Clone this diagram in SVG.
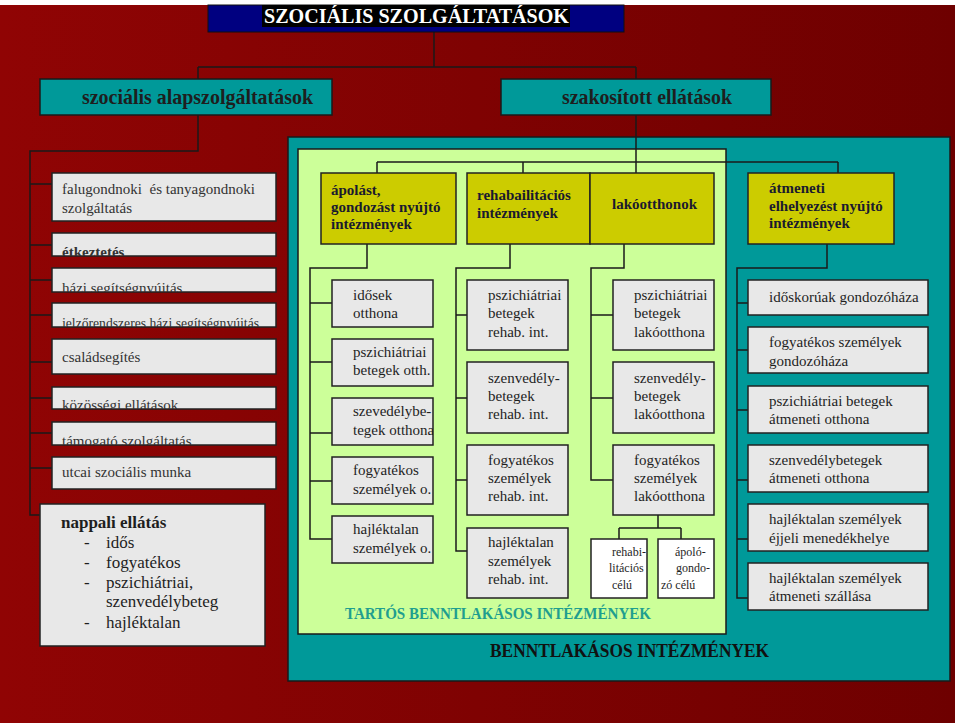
<svg xmlns="http://www.w3.org/2000/svg" width="960" height="723" viewBox="0 0 960 723">
<defs>
<linearGradient id="bg" x1="0" y1="0" x2="1" y2="0">
<stop offset="0" stop-color="#900404"/>
<stop offset="1" stop-color="#6e0000"/>
</linearGradient>
<clipPath id="c-etk"><rect x="52" y="233" width="224" height="23"/></clipPath>
<clipPath id="c-hazi"><rect x="52" y="268" width="224" height="24"/></clipPath>
<clipPath id="c-jelzo"><rect x="52" y="303" width="224" height="24"/></clipPath>
<clipPath id="c-kozos"><rect x="52" y="387" width="224" height="22"/></clipPath>
<clipPath id="c-tamog"><rect x="52" y="422" width="224" height="23"/></clipPath>
<clipPath id="c-szev"><rect x="332" y="398" width="101" height="47"/></clipPath>
<clipPath id="c-rehabi"><rect x="591" y="539" width="56" height="59"/></clipPath>
<clipPath id="c-apolo"><rect x="658" y="539" width="56" height="59"/></clipPath>
</defs>
<style>
text{font-family:"Liberation Serif","DejaVu Serif","Noto Serif",serif}
.gray{fill:#e8e8e8;stroke:#222;stroke-width:1.5}
.white{fill:#ffffff;stroke:#222;stroke-width:1.5}
.yel{fill:#cccc00;stroke:#222;stroke-width:1.5}
.teal{fill:#009999;stroke:#1a1a1a;stroke-width:1.5}
.t{fill:#1e1e1e}
.tl{fill:#333;font-size:15px}
.tb{fill:#1a1a2e;font-weight:bold;font-size:15px}
.tg{fill:#1e1e1e;font-size:15px}
.tw{fill:#1e1e1e;font-size:15px}
.ts{fill:#1e1e1e;font-size:12px}
.ln{fill:none;stroke:#1a1a1a;stroke-width:1.5}
</style>
<rect x="0" y="5" width="955" height="718" fill="url(#bg)"/>
<rect x="288" y="137" width="662" height="544" fill="#009999" stroke="#1a1a1a" stroke-width="1.5"/>
<rect x="298" y="149" width="428" height="485" fill="#ccff99" stroke="#1a1a1a" stroke-width="1.5"/>

<g id="connectors">
<path class="ln" d="M434 32V67M198 67H636M198 67V79M636 67V173"/>
<path class="ln" d="M198 115V151H30V515H52"/>
<path class="ln" d="M30 184H52M30 245H52M30 280H52M30 315H52M30 362H52M30 398H52M30 433H52M30 468H52"/>
<path class="ln" d="M377 162H838M377 162V173M523 162V173M838 162V173"/>
<path class="ln" d="M367 244V268H310V539H332M310 303H332M310 362H332M310 433H332M310 481H332"/>
<path class="ln" d="M510 244V268H456V551H467M456 315H467M456 398H467M456 480H467"/>
<path class="ln" d="M624 244V268H591V480H613M591 315H613M591 398H613"/>
<path class="ln" d="M658 515V528M619 528H681M619 528V539M681 528V539"/>
<path class="ln" d="M827 244V268H737V598H748M737 303H748M737 350H748M737 410H748M737 480H748M737 539H748"/>
</g>

<g id="title">
<rect x="208" y="5" width="416" height="27" fill="#000080" stroke="#111" stroke-width="1"/>
<rect x="262" y="5" width="308" height="22" fill="#000"/>
<text x="264" y="23" font-weight="bold" font-size="20" fill="#fff" textLength="305" lengthAdjust="spacingAndGlyphs">SZOCIÁLIS SZOLGÁLTATÁSOK</text>
</g>

<g id="alapszolg">
<rect class="teal" x="40" y="79" width="292" height="36"/>
<text class="t" x="82" y="104" font-weight="bold" font-size="21" textLength="231" lengthAdjust="spacingAndGlyphs">szociális alapszolgáltatások</text>
</g>
<g id="szakositott">
<rect class="teal" x="501" y="79" width="270" height="36"/>
<text class="t" x="562" y="104" font-weight="bold" font-size="21" textLength="170" lengthAdjust="spacingAndGlyphs">szakosított ellátások</text>
</g>

<g id="falugondnoki"><rect class="gray" x="52" y="173" width="224" height="48"/>
<text class="tl" x="62" y="194">falugondnoki&#160; és tanyagondnoki</text><text class="tl" x="62" y="213">szolgáltatás</text></g>
<g id="etkeztetes"><rect class="gray" x="52" y="233" width="224" height="23"/>
<text class="tl" x="62" y="257" font-weight="bold" clip-path="url(#c-etk)">étkeztetés</text></g>
<g id="hazi"><rect class="gray" x="52" y="268" width="224" height="24"/>
<text class="tl" x="62" y="293" clip-path="url(#c-hazi)">házi segítségnyújtás</text></g>
<g id="jelzo"><rect class="gray" x="52" y="303" width="224" height="24"/>
<text class="tl" x="62" y="328" font-size="14" textLength="197" lengthAdjust="spacingAndGlyphs" clip-path="url(#c-jelzo)">jelzőrendszeres házi segítségnyújtás</text></g>
<g id="csaladsegites"><rect class="gray" x="52" y="339" width="224" height="35"/>
<text class="tl" x="62" y="362" font-size="17">családsegítés</text></g>
<g id="kozossegi"><rect class="gray" x="52" y="387" width="224" height="22"/>
<text class="tl" x="62" y="410" clip-path="url(#c-kozos)">közösségi ellátások</text></g>
<g id="tamogato"><rect class="gray" x="52" y="422" width="224" height="23"/>
<text class="tl" x="62" y="446" clip-path="url(#c-tamog)">támogató szolgáltatás</text></g>
<g id="utcai"><rect class="gray" x="52" y="457" width="224" height="32"/>
<text class="tl" x="62" y="477">utcai szociális munka</text></g>
<g id="nappali"><rect class="gray" x="40" y="504" width="225" height="142"/>
<text class="t" x="61" y="528" font-size="17" font-weight="bold">nappali ellátás</text>
<text class="t" font-size="17"><tspan x="84" y="548">-</tspan><tspan x="106" y="548">idős</tspan><tspan x="84" y="568">-</tspan><tspan x="106" y="568">fogyatékos</tspan><tspan x="84" y="588">-</tspan><tspan x="106" y="588">pszichiátriai,</tspan><tspan x="106" y="607">szenvedélybeteg</tspan><tspan x="84" y="628">-</tspan><tspan x="106" y="628">hajléktalan</tspan></text>
</g>

<g id="apolast"><rect class="yel" x="321" y="173" width="135" height="71"/>
<text class="tb" x="331" y="195">ápolást,</text><text class="tb" x="331" y="212">gondozást nyújtó</text><text class="tb" x="331" y="229">intézmények</text></g>
<g id="rehab"><rect class="yel" x="467" y="173" width="123" height="71"/>
<text class="tb" x="477" y="200">rehabailitációs</text><text class="tb" x="477" y="218">intézmények</text></g>
<g id="lakootthonok"><rect class="yel" x="590" y="173" width="124" height="71"/>
<text class="tb" x="612" y="209">lakóotthonok</text></g>
<g id="atmeneti"><rect class="yel" x="748" y="173" width="146" height="71"/>
<text class="tb" x="769" y="193">átmeneti</text><text class="tb" x="769" y="211">elhelyezést nyújtó</text><text class="tb" x="769" y="228">intézmények</text></g>

<g id="idosek-otthona"><rect class="gray" x="332" y="280" width="101" height="47"/>
<text class="tg" x="353" y="300">idősek</text><text class="tg" x="353" y="318">otthona</text></g>
<g id="psz-otth"><rect class="gray" x="332" y="339" width="101" height="47"/>
<text class="tg" x="353" y="357">pszichiátriai</text><text class="tg" x="353" y="375">betegek otth.</text></g>
<g id="szev-otth"><rect class="gray" x="332" y="398" width="101" height="47"/>
<g clip-path="url(#c-szev)"><text class="tg" x="353" y="416">szevedélybe-</text><text class="tg" x="353" y="435">tegek otthona</text></g></g>
<g id="fogy-o"><rect class="gray" x="332" y="457" width="101" height="47"/>
<text class="tg" x="353" y="475">fogyatékos</text><text class="tg" x="353" y="494">személyek o.</text></g>
<g id="hajl-o"><rect class="gray" x="332" y="516" width="101" height="47"/>
<text class="tg" x="353" y="534">hajléktalan</text><text class="tg" x="353" y="553">személyek o.</text></g>

<g id="psz-rehab"><rect class="gray" x="467" y="280" width="101" height="70"/>
<text class="tg" x="488" y="300">pszichiátriai</text><text class="tg" x="488" y="318">betegek</text><text class="tg" x="488" y="337">rehab. int.</text></g>
<g id="szenv-rehab"><rect class="gray" x="467" y="362" width="101" height="71"/>
<text class="tg" x="488" y="383">szenvedély-</text><text class="tg" x="488" y="401">betegek</text><text class="tg" x="488" y="419">rehab. int.</text></g>
<g id="fogy-rehab"><rect class="gray" x="467" y="445" width="101" height="70"/>
<text class="tg" x="488" y="465">fogyatékos</text><text class="tg" x="488" y="483">személyek</text><text class="tg" x="488" y="501">rehab. int.</text></g>
<g id="hajl-rehab"><rect class="gray" x="467" y="528" width="101" height="70"/>
<text class="tg" x="488" y="547">hajléktalan</text><text class="tg" x="488" y="566">személyek</text><text class="tg" x="488" y="584">rehab. int.</text></g>

<g id="psz-lako"><rect class="gray" x="613" y="280" width="101" height="70"/>
<text class="tg" x="634" y="300">pszichiátriai</text><text class="tg" x="634" y="318">betegek</text><text class="tg" x="634" y="337">lakóotthona</text></g>
<g id="szenv-lako"><rect class="gray" x="613" y="362" width="101" height="71"/>
<text class="tg" x="634" y="383">szenvedély-</text><text class="tg" x="634" y="401">betegek</text><text class="tg" x="634" y="419">lakóotthona</text></g>
<g id="fogy-lako"><rect class="gray" x="613" y="445" width="101" height="70"/>
<text class="tg" x="634" y="465">fogyatékos</text><text class="tg" x="634" y="483">személyek</text><text class="tg" x="634" y="501">lakóotthona</text></g>
<g id="rehabi-celu"><rect class="white" x="591" y="539" width="56" height="59"/>
<g clip-path="url(#c-rehabi)"><text class="ts" x="612" y="556">rehabi-</text><text class="ts" x="609" y="572">litációs</text><text class="ts" x="612" y="589">célú</text></g></g>
<g id="apolo-celu"><rect class="white" x="658" y="539" width="56" height="59"/>
<g clip-path="url(#c-apolo)"><text class="ts" x="675" y="556">ápoló-</text><text class="ts" x="676" y="572">gondo-</text><text class="ts" x="661" y="589">zó célú</text></g></g>

<g id="idoskoruak"><rect class="gray" x="748" y="280" width="180" height="35"/>
<text class="tw" x="769" y="302">időskorúak gondozóháza</text></g>
<g id="fogy-gond"><rect class="gray" x="748" y="327" width="180" height="46"/>
<text class="tw" x="769" y="347">fogyatékos személyek</text><text class="tw" x="769" y="366">gondozóháza</text></g>
<g id="psz-atm"><rect class="gray" x="748" y="386" width="180" height="47"/>
<text class="tw" x="769" y="406">pszichiátriai betegek</text><text class="tw" x="769" y="424">átmeneti otthona</text></g>
<g id="szenv-atm"><rect class="gray" x="748" y="445" width="180" height="47"/>
<text class="tw" x="769" y="465">szenvedélybetegek</text><text class="tw" x="769" y="483">átmeneti otthona</text></g>
<g id="hajl-ejjeli"><rect class="gray" x="748" y="504" width="180" height="47"/>
<text class="tw" x="769" y="524">hajléktalan személyek</text><text class="tw" x="769" y="543">éjjeli menedékhelye</text></g>
<g id="hajl-szallas"><rect class="gray" x="748" y="563" width="180" height="47"/>
<text class="tw" x="769" y="583">hajléktalan személyek</text><text class="tw" x="769" y="601">átmeneti szállása</text></g>

<g id="labels">
<text x="345" y="619" font-weight="bold" font-size="16" fill="#1f9e8f" textLength="306" lengthAdjust="spacingAndGlyphs">TARTÓS BENNTLAKÁSOS INTÉZMÉNYEK</text>
<text x="490" y="657" font-weight="bold" font-size="18" fill="#111" textLength="279" lengthAdjust="spacingAndGlyphs">BENNTLAKÁSOS INTÉZMÉNYEK</text>
</g>
</svg>
